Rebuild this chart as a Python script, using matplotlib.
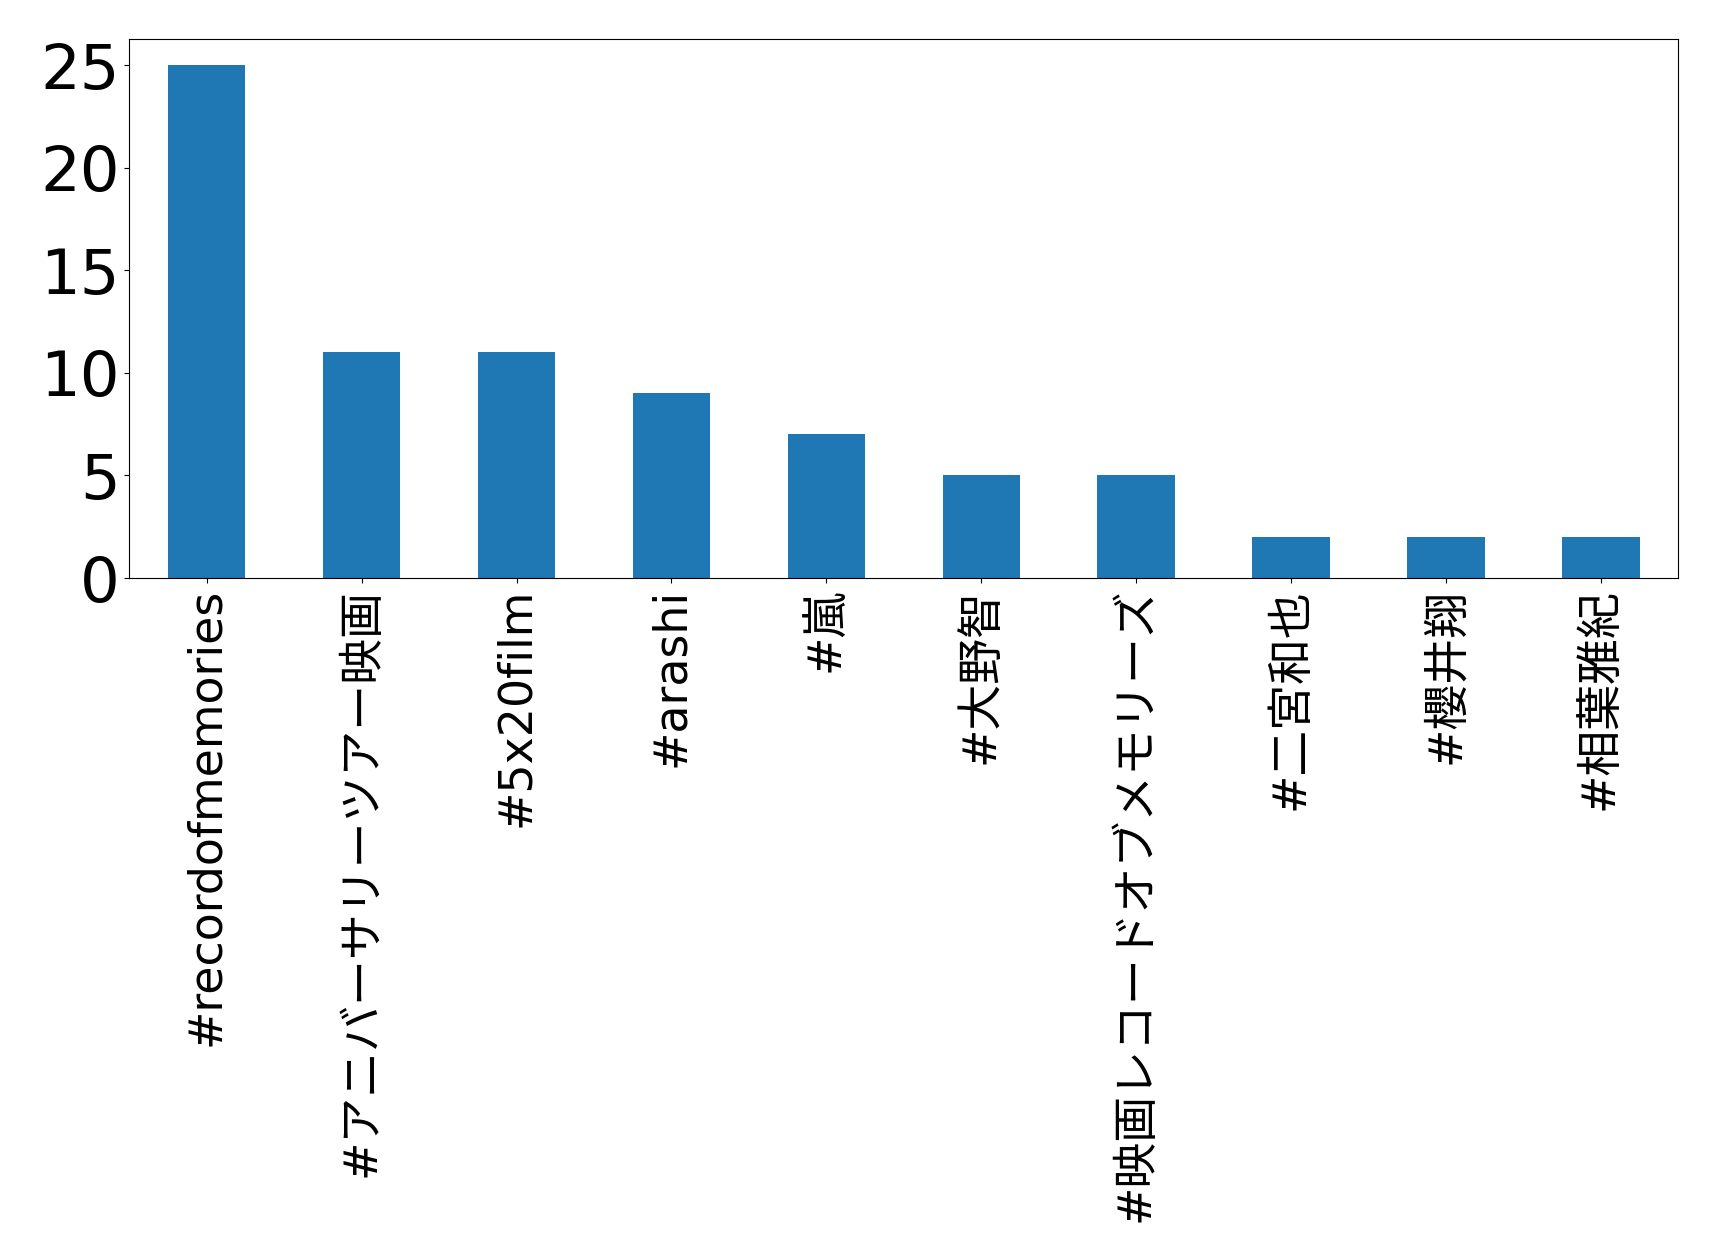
import matplotlib
matplotlib.use("Agg")
import matplotlib.pyplot as plt
from matplotlib.ticker import MultipleLocator
import pandas as pd

# hashtag counts (top 10)
tags = [
    "#recordofmemories",
    "#アニバーサリーツアー映画",
    "#5x20film",
    "#arashi",
    "#嵐",
    "#大野智",
    "#映画レコードオブメモリーズ",
    "#二宮和也",
    "#櫻井翔",
    "#相葉雅紀",
]
counts = [25, 11, 11, 9, 7, 5, 5, 2, 2, 2]

# DejaVu for latin, Noto CJK for the japanese tags
plt.rcParams["font.family"] = ["DejaVu Sans", "Noto Sans CJK JP"]

s = pd.Series(counts, index=tags)

fig = plt.figure(figsize=(17.19, 12.53), dpi=100)
ax = fig.add_axes([0.0752, 0.5387, 0.9012, 0.4298])
s.plot.bar(ax=ax, color="#1f77b4")
ax.yaxis.set_major_locator(MultipleLocator(5))
ax.tick_params(axis="y", labelsize=45)
ax.tick_params(axis="x", labelsize=33)
ax.set_xlabel("")

fig.savefig("out.png", dpi=100)
